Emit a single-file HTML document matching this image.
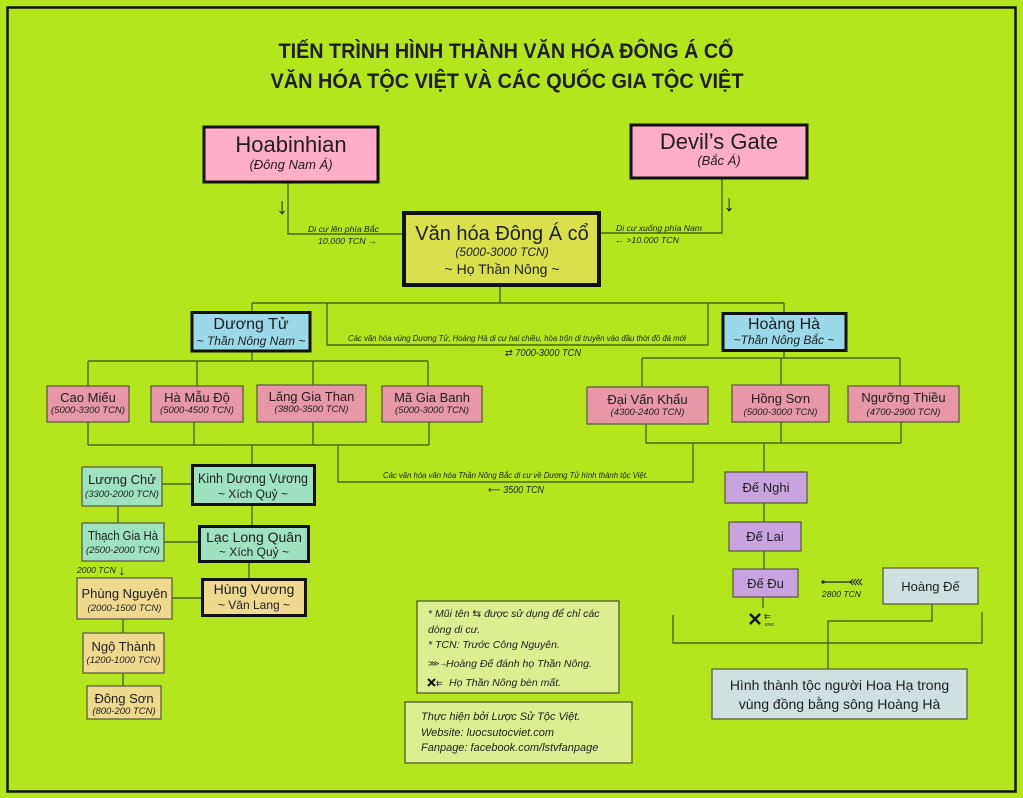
<!DOCTYPE html>
<html><head><meta charset="utf-8"><style>
html,body{margin:0;padding:0;background:#b5e61d;}
svg{display:block;}
text{font-family:"Liberation Sans","DejaVu Sans",sans-serif;fill:#1e1e1e;}
.t{font-size:13px;text-anchor:middle;}
.d{font-size:9.5px;font-style:italic;text-anchor:middle;}
.s{font-size:12px;font-style:italic;text-anchor:middle;}
.l{font-size:8.5px;font-style:italic;}
.g{font-size:10.5px;font-style:italic;}
.ln{stroke:#4a6912;stroke-width:1.4;fill:none;}
.pk{fill:#e897a9;stroke:#5d5d45;stroke-width:1.3;}
.mt{fill:#9ee2c2;stroke:#5d5d45;stroke-width:1.3;}
.kh{fill:#efd98f;stroke:#5d5d45;stroke-width:1.3;}
.pu{fill:#c9a3df;stroke:#5d5d45;stroke-width:1.3;}
.gy{fill:#d0dfe0;stroke:#5d5d45;stroke-width:1.3;}
</style></head><body>
<svg width="1023" height="798" viewBox="0 0 1023 798" xmlns="http://www.w3.org/2000/svg">
<rect x="0" y="0" width="1023" height="798" fill="#b5e61d"/>
<rect x="7.5" y="7.5" width="1008" height="784" fill="none" stroke="#111" stroke-width="2.5"/>

<!-- Title -->
<text x="506" y="58" font-size="21" font-weight="bold" text-anchor="middle" textLength="455" lengthAdjust="spacingAndGlyphs">TIẾN TRÌNH HÌNH THÀNH VĂN HÓA ĐÔNG Á CỔ</text>
<text x="507" y="88" font-size="21" font-weight="bold" text-anchor="middle" textLength="473" lengthAdjust="spacingAndGlyphs">VĂN HÓA TỘC VIỆT VÀ CÁC QUỐC GIA TỘC VIỆT</text>

<!-- Connectors top -->
<polyline class="ln" points="288,182 288,234 402,234"/>
<polyline class="ln" points="722,179 722,233 601,233"/>
<line class="ln" x1="500" y1="287" x2="500" y2="303"/>
<line class="ln" x1="252" y1="303" x2="784" y2="303"/>
<line class="ln" x1="252" y1="303" x2="252" y2="312"/>
<line class="ln" x1="784" y1="303" x2="784" y2="313"/>
<polyline class="ln" points="327,303 327,345 708,345 708,303"/>

<!-- Dương Tử children -->
<line class="ln" x1="252" y1="351" x2="252" y2="361"/>
<line class="ln" x1="88" y1="361" x2="428" y2="361"/>
<line class="ln" x1="88" y1="361" x2="88" y2="386"/>
<line class="ln" x1="197" y1="361" x2="197" y2="386"/>
<line class="ln" x1="313" y1="361" x2="313" y2="385"/>
<line class="ln" x1="428" y1="361" x2="428" y2="386"/>
<line class="ln" x1="88" y1="422" x2="88" y2="445"/>
<line class="ln" x1="194" y1="422" x2="194" y2="445"/>
<line class="ln" x1="313" y1="422" x2="313" y2="445"/>
<line class="ln" x1="429" y1="422" x2="429" y2="445"/>
<line class="ln" x1="88" y1="445" x2="429" y2="445"/>
<line class="ln" x1="252" y1="445" x2="252" y2="464"/>
<polyline class="ln" points="338,445 338,482 693,482 693,443"/>

<!-- Hoàng Hà children -->
<line class="ln" x1="784" y1="351" x2="784" y2="358"/>
<line class="ln" x1="642" y1="358" x2="900" y2="358"/>
<line class="ln" x1="642" y1="358" x2="642" y2="387"/>
<line class="ln" x1="781" y1="358" x2="781" y2="385"/>
<line class="ln" x1="900" y1="358" x2="900" y2="386"/>
<line class="ln" x1="646" y1="424" x2="646" y2="443"/>
<line class="ln" x1="781" y1="422" x2="781" y2="443"/>
<line class="ln" x1="901" y1="422" x2="901" y2="443"/>
<line class="ln" x1="646" y1="443" x2="901" y2="443"/>
<line class="ln" x1="764" y1="443" x2="764" y2="472"/>
<line class="ln" x1="764" y1="503" x2="764" y2="522"/>
<line class="ln" x1="764" y1="551" x2="764" y2="569"/>
<line class="ln" x1="763" y1="597" x2="763" y2="608"/>
<polyline class="ln" points="673,615 673,643 982,643 982,612"/>
<polyline class="ln" points="932,604 932,621 828,621 828,669"/>

<!-- Left column connectors -->
<line class="ln" x1="162" y1="484" x2="191" y2="484"/>
<line class="ln" x1="252" y1="505" x2="252" y2="525"/>
<line class="ln" x1="118" y1="506" x2="118" y2="523"/>
<line class="ln" x1="164" y1="542" x2="198" y2="542"/>
<line class="ln" x1="249" y1="562" x2="249" y2="578"/>
<line class="ln" x1="172" y1="598" x2="201" y2="598"/>
<line class="ln" x1="123" y1="619" x2="123" y2="633"/>
<line class="ln" x1="123" y1="673" x2="123" y2="686"/>

<!-- Top boxes -->
<rect x="204" y="127" width="174" height="55" fill="#ffaec9" stroke="#111" stroke-width="3"/>
<text x="291" y="152" font-size="22" text-anchor="middle">Hoabinhian</text>
<text x="291" y="169" font-size="13" font-style="italic" text-anchor="middle">(Đông Nam Á)</text>

<rect x="631" y="125" width="176" height="53" fill="#ffaec9" stroke="#111" stroke-width="3"/>
<text x="719" y="149" font-size="22" text-anchor="middle">Devil’s Gate</text>
<text x="719" y="165" font-size="13" font-style="italic" text-anchor="middle">(Bắc Á)</text>

<text x="282" y="214" font-size="23" text-anchor="middle" font-family="DejaVu Sans">↓</text>
<text x="729" y="211" font-size="23" text-anchor="middle" font-family="DejaVu Sans">↓</text>

<text class="l" x="308" y="232" textLength="71" lengthAdjust="spacingAndGlyphs">Di cư lên phía Bắc</text>
<text class="l" x="318" y="244" textLength="59" lengthAdjust="spacingAndGlyphs">10.000 TCN  →</text>
<text class="l" x="616" y="231" textLength="86" lengthAdjust="spacingAndGlyphs">Di cư xuống phía Nam</text>
<text class="l" x="615" y="243" textLength="64" lengthAdjust="spacingAndGlyphs">←  &gt;10.000 TCN</text>

<!-- Center -->
<rect x="404" y="213" width="195" height="72" fill="#d8e04c" stroke="#111" stroke-width="4"/>
<text x="502" y="240" font-size="20" text-anchor="middle">Văn hóa Đông Á cổ</text>
<text x="502" y="256" font-size="12" font-style="italic" text-anchor="middle">(5000-3000 TCN)</text>
<text x="502" y="274" font-size="14" text-anchor="middle">~ Họ Thần Nông ~</text>

<text class="l" x="348" y="341" textLength="338" lengthAdjust="spacingAndGlyphs">Các văn hóa vùng Dương Tử, Hoàng Hà di cư hai chiều, hòa trộn di truyền vào đầu thời đồ đá mới</text>
<text x="505" y="356" font-size="10" font-style="italic" textLength="76" lengthAdjust="spacingAndGlyphs">⇄ 7000-3000 TCN</text>

<!-- Dương Tử / Hoàng Hà -->
<rect x="192" y="312.5" width="118" height="38.5" fill="#99d9ea" stroke="#111" stroke-width="3"/>
<text x="251" y="329" font-size="16" text-anchor="middle">Dương Tử</text>
<text class="s" x="251" y="345">~ Thần Nông Nam ~</text>

<rect x="723" y="313.5" width="123" height="37" fill="#99d9ea" stroke="#111" stroke-width="3"/>
<text x="784" y="329" font-size="16" text-anchor="middle">Hoàng Hà</text>
<text class="s" x="784" y="344">~Thần Nông Bắc ~</text>

<!-- Pink boxes -->
<rect class="pk" x="47" y="386" width="82" height="36"/>
<text class="t" x="88" y="402">Cao Miếu</text>
<text class="d" x="88" y="413">(5000-3300 TCN)</text>

<rect class="pk" x="151" y="386" width="92" height="36"/>
<text class="t" x="197" y="402">Hà Mẫu Độ</text>
<text class="d" x="197" y="413">(5000-4500 TCN)</text>

<rect class="pk" x="257" y="385" width="109" height="37"/>
<text class="t" x="311.5" y="401">Lăng Gia Than</text>
<text class="d" x="311.5" y="412">(3800-3500 TCN)</text>

<rect class="pk" x="382" y="386" width="100" height="36"/>
<text class="t" x="432" y="402">Mã Gia Banh</text>
<text class="d" x="432" y="413">(5000-3000 TCN)</text>

<rect class="pk" x="587" y="387" width="121" height="37"/>
<text class="t" x="647.5" y="404">Đại Vấn Khẩu</text>
<text class="d" x="647.5" y="415">(4300-2400 TCN)</text>

<rect class="pk" x="732" y="385" width="97" height="37"/>
<text class="t" x="780.5" y="403">Hồng Sơn</text>
<text class="d" x="780.5" y="415">(5000-3000 TCN)</text>

<rect class="pk" x="848" y="386" width="111" height="36"/>
<text class="t" x="903.5" y="402">Ngưỡng Thiều</text>
<text class="d" x="903.5" y="415">(4700-2900 TCN)</text>

<text class="l" x="383" y="478" textLength="265" lengthAdjust="spacingAndGlyphs">Các văn hóa văn hóa Thần Nông Bắc di cư về Dương Tử hình thành tộc Việt.</text>
<text x="488" y="493" font-size="10" font-style="italic" textLength="56" lengthAdjust="spacingAndGlyphs">⟵ 3500 TCN</text>

<!-- Left column -->
<rect class="mt" x="82" y="467" width="80" height="39"/>
<text class="t" x="122" y="484">Lương Chử</text>
<text class="d" x="122" y="497">(3300-2000 TCN)</text>

<rect x="192.5" y="465.5" width="122" height="39" fill="#9ee2c2" stroke="#111" stroke-width="3"/>
<text x="253" y="483" font-size="13.5" text-anchor="middle" textLength="110" lengthAdjust="spacingAndGlyphs">Kinh Dương Vương</text>
<text x="253" y="498" font-size="12" text-anchor="middle">~ Xích Quỷ ~</text>

<rect class="mt" x="82" y="523" width="82" height="38"/>
<text class="t" x="123" y="540" textLength="70" lengthAdjust="spacingAndGlyphs">Thạch Gia Hà</text>
<text class="d" x="123" y="553">(2500-2000 TCN)</text>

<rect x="199.5" y="526.5" width="109" height="35" fill="#9ee2c2" stroke="#111" stroke-width="3"/>
<text x="254" y="542" font-size="14" text-anchor="middle">Lạc Long Quân</text>
<text x="254" y="556" font-size="12" text-anchor="middle">~ Xích Quỷ ~</text>

<text x="77" y="573" font-size="8.5" font-style="italic">2000 TCN</text>
<text x="122" y="575" font-size="14" text-anchor="middle" font-family="DejaVu Sans">↓</text>

<rect class="kh" x="77" y="578" width="95" height="41"/>
<text class="t" x="124.5" y="598">Phùng Nguyên</text>
<text class="d" x="124.5" y="611">(2000-1500 TCN)</text>

<rect x="202.5" y="579.5" width="103" height="36" fill="#efd98f" stroke="#111" stroke-width="3"/>
<text x="254" y="594" font-size="14" text-anchor="middle">Hùng Vương</text>
<text x="254" y="609" font-size="12" text-anchor="middle">~ Văn Lang ~</text>

<rect class="kh" x="83" y="633" width="81" height="40"/>
<text class="t" x="123.5" y="651">Ngộ Thành</text>
<text class="d" x="123.5" y="663">(1200-1000 TCN)</text>

<rect class="kh" x="87" y="686" width="74" height="33"/>
<text class="t" x="124" y="703">Đông Sơn</text>
<text class="d" x="124" y="714">(800-200 TCN)</text>

<!-- Right column -->
<rect class="pu" x="725" y="472" width="82" height="31"/>
<text class="t" x="766" y="492">Đế Nghi</text>
<rect class="pu" x="729" y="522" width="72" height="29"/>
<text class="t" x="765" y="541">Đế Lai</text>
<rect class="pu" x="733" y="569" width="65" height="28"/>
<text class="t" x="765.5" y="588">Đế Đu</text>

<!-- X END -->
<line x1="750" y1="614" x2="760" y2="624" stroke="#111" stroke-width="2.5"/>
<line x1="760" y1="614" x2="750" y2="624" stroke="#111" stroke-width="2.5"/>
<text x="764" y="619" font-size="8" font-family="DejaVu Sans">⇇</text>
<text x="765" y="626" font-size="4.5">END</text>

<!-- 2800 arrow -->
<line x1="823" y1="582" x2="852" y2="582" stroke="#222" stroke-width="1.2"/>
<circle cx="823" cy="582" r="1.6" fill="#222"/>
<polyline points="853,579 850,582 853,585" fill="none" stroke="#222" stroke-width="1"/>
<polyline points="856,579 853,582 856,585" fill="none" stroke="#222" stroke-width="1"/>
<polyline points="859,579 856,582 859,585" fill="none" stroke="#222" stroke-width="1"/>
<polyline points="862,579 859,582 862,585" fill="none" stroke="#222" stroke-width="1"/>
<text x="822" y="597" font-size="8.5" font-style="italic" textLength="39" lengthAdjust="spacingAndGlyphs">2800 TCN</text>

<rect class="gy" x="883" y="568" width="95" height="36"/>
<text class="t" x="930.5" y="591">Hoàng Đế</text>

<rect class="gy" x="712" y="669" width="255" height="50"/>
<text x="839.5" y="690" font-size="14" text-anchor="middle">Hình thành tộc người Hoa Hạ trong</text>
<text x="839.5" y="709" font-size="14" text-anchor="middle">vùng đồng bằng sông Hoàng Hà</text>

<!-- Legend -->
<rect x="417" y="601" width="202" height="92" fill="#ddee92" stroke="#4e5a25" stroke-width="1.3"/>
<text class="g" x="428" y="617">* Mũi tên ⇆ được sử dụng để chỉ các</text>
<text class="g" x="428" y="633">dòng di cư.</text>
<text class="g" x="428" y="648">* TCN: Trước Công Nguyên.</text>
<text x="428" y="666" font-size="8" font-family="DejaVu Sans">⋙→</text>
<text class="g" x="446" y="667">Hoàng Đế đánh họ Thần Nông.</text>
<line x1="428" y1="679" x2="435" y2="686" stroke="#111" stroke-width="2"/>
<line x1="435" y1="679" x2="428" y2="686" stroke="#111" stroke-width="2"/>
<text x="436" y="686" font-size="8" font-family="DejaVu Sans">⇇</text>
<text class="g" x="449" y="686">Họ Thần Nông bèn mất.</text>

<rect x="405" y="702" width="227" height="61" fill="#ddee92" stroke="#4e5a25" stroke-width="1.3"/>
<text x="421" y="720" font-size="11" font-style="italic">Thực hiện bởi Lược Sử Tộc Việt.</text>
<text x="421" y="736" font-size="11" font-style="italic">Website: luocsutocviet.com</text>
<text x="421" y="751" font-size="11" font-style="italic">Fanpage: facebook.com/lstvfanpage</text>
</svg>
</body></html>
